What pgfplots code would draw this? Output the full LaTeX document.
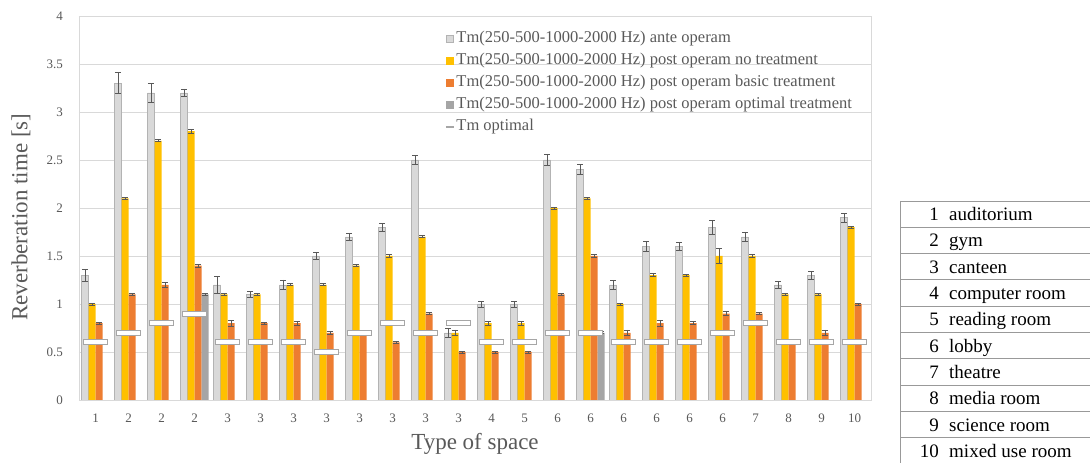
\documentclass[border=0pt]{standalone}
\usepackage{fontspec}
\setmainfont{Liberation Serif}
\usepackage{pgfplots}
\usepackage{pgfplotstable}
\pgfplotsset{compat=1.18}
\usetikzlibrary{plotmarks}

\definecolor{ante}{HTML}{D9D9D9}
\definecolor{anteline}{HTML}{B3B3B3}
\definecolor{notr}{HTML}{FFC000}
\definecolor{basic}{HTML}{ED7D31}
\definecolor{optim}{HTML}{A5A5A5}
\definecolor{txt}{HTML}{595959}
\definecolor{gridc}{HTML}{D9D9D9}
\definecolor{errc}{HTML}{595959}
\definecolor{tmline}{HTML}{A6A6A6}
\definecolor{tabline}{HTML}{999999}

\pgfdeclareplotmark{tmopt}{%
  \pgfpathrectangle{\pgfqpoint{-12pt}{-2.5pt}}{\pgfqpoint{24pt}{5pt}}%
  \pgfusepathqfillstroke}

% x = position of the group, y = value, e = error
\pgfplotstableread{
x y e
0 1.3 0.06
1 3.3 0.11
2 3.2 0.10
3 3.2 0.04
4 1.2 0.09
5 1.1 0.035
6 1.2 0.05
7 1.5 0.035
8 1.7 0.04
9 1.8 0.04
10 2.5 0.05
11 0.7 0.045
12 1.0 0.03
13 1.0 0.03
14 2.5 0.06
15 2.4 0.05
16 1.2 0.045
17 1.6 0.05
18 1.6 0.045
19 1.8 0.07
20 1.7 0.045
21 1.2 0.035
22 1.3 0.04
23 1.9 0.045
}\anteop

\pgfplotstableread{
x y e
0 1.0 0.01
1 2.1 0.01
2 2.7 0.01
3 2.8 0.02
4 1.1 0.01
5 1.1 0.01
6 1.2 0.01
7 1.2 0.01
8 1.4 0.01
9 1.5 0.015
10 1.7 0.01
11 0.7 0.03
12 0.8 0.02
13 0.8 0.02
14 2.0 0.01
15 2.1 0.01
16 1.0 0.01
17 1.3 0.015
18 1.3 0.01
19 1.5 0.08
20 1.5 0.015
21 1.1 0.01
22 1.1 0.01
23 1.8 0.01
}\notreat

\pgfplotstableread{
x y e
0 0.8 0.01
1 1.1 0.01
2 1.2 0.025
3 1.4 0.015
4 0.8 0.03
5 0.8 0.01
6 0.8 0.02
7 0.7 0.02
8 0.7 0.01
9 0.6 0.01
10 0.9 0.01
11 0.5 0.01
12 0.5 0.01
13 0.5 0.01
14 1.1 0.01
15 1.5 0.015
16 0.7 0.03
17 0.8 0.03
18 0.8 0.015
19 0.9 0.02
20 0.9 0.01
21 0.6 0.01
22 0.7 0.03
23 1.0 0.01
}\basictr

\pgfplotstableread{
x y e
3 1.1 0.01
15 0.7 0.01
}\optimtr

\pgfplotstableread{
x y
0 0.6
1 0.7
2 0.8
3 0.9
4 0.6
5 0.6
6 0.6
7 0.5
8 0.7
9 0.8
10 0.7
11 0.8
12 0.6
13 0.6
14 0.7
15 0.7
16 0.6
17 0.6
18 0.6
19 0.7
20 0.8
21 0.6
22 0.6
23 0.6
}\tmopt

\pgfplotsset{
  errs/.style={
    error bars/.cd, y dir=both, y explicit,
    error bar style={errc, line width=0.7pt},
    error mark options={errc, rotate=90, mark size=3pt, line width=0.7pt}},
  barleg/.style 2 args={legend image code/.code={%
    \fill[fill=#1, draw=#2, line width=0.5pt] (0pt,-3.5pt) rectangle (7pt,3.5pt);}},
}

\begin{document}
\begin{tikzpicture}
\begin{axis}[
  at={(79pt,63pt)}, anchor=south west,
  scale only axis, width=792pt, height=384pt,
  xmin=-0.5, xmax=23.5, ymin=0, ymax=4,
  xtick={0,...,23},
  xticklabels={1,2,2,2,3,3,3,3,3,3,3,3,4,5,6,6,6,6,6,6,7,8,9,10},
  ytick={0,0.5,...,4},
  yticklabels={0,0.5,1,1.5,2,2.5,3,3.5,4},
  major tick length=0pt,
  ymajorgrids, grid style={gridc, line width=0.8pt},
  axis line style={draw=gridc, line width=0.8pt},
  tick label style={font=\fontsize{13}{15}\selectfont, text=txt},
  yticklabel style={inner sep=0pt, xshift=-16pt},
  xticklabel style={inner sep=0pt, yshift=-14pt},
  xlabel={Type of space},
  ylabel={Reverberation time [s]},
  label style={font=\fontsize{23}{27}\selectfont, text=txt},
  xlabel style={at={(axis description cs:0.5,0)}, anchor=north, inner sep=0pt, yshift=-33pt},
  ylabel style={at={(axis description cs:-0.0732,0.476)}, anchor=center, inner sep=0pt},
  legend style={at={(axis description cs:0.458,0.971)}, anchor=north west,
    draw=none, fill=none, font=\fontsize{16.5}{19}\selectfont, text=txt,
    row sep=3pt, nodes={inner sep=1.5pt, text height=12pt, text depth=4pt}},
  legend cell align=left,
]
% bars: each group is 33pt wide, bars 7pt wide (7/33 = 0.21212 axis units)
\addplot[ybar, bar width=7pt, bar shift=0pt, fill=ante, draw=anteline, line width=0.5pt,
  barleg={ante}{anteline}, errs]
  table[x expr=\thisrow{x}-0.318182, y=y, y error=e] {\anteop};
\addlegendentry{Tm(250-500-1000-2000 Hz) ante operam}
\addplot[ybar, bar width=7pt, bar shift=0pt, fill=notr, draw=none,
  barleg={notr}{notr}, errs]
  table[x expr=\thisrow{x}-0.106061, y=y, y error=e] {\notreat};
\addlegendentry{Tm(250-500-1000-2000 Hz) post operam no treatment}
\addplot[ybar, bar width=7pt, bar shift=0pt, fill=basic, draw=none,
  barleg={basic}{basic}, errs]
  table[x expr=\thisrow{x}+0.106061, y=y, y error=e] {\basictr};
\addlegendentry{Tm(250-500-1000-2000 Hz) post operam basic treatment}
\addplot[ybar, bar width=7pt, bar shift=0pt, fill=optim, draw=none,
  barleg={optim}{optim}, errs]
  table[x expr=\thisrow{x}+0.318182, y=y, y error=e] {\optimtr};
\addlegendentry{Tm(250-500-1000-2000 Hz) post operam optimal treatment}
\addplot[only marks, mark=tmopt, mark options={fill=white, draw=tmline, line width=0.8pt},
  legend image code/.code={\draw[tmline, line width=2pt] (0pt,0pt) -- (8pt,0pt);}]
  table[x=x, y=y] {\tmopt};
\addlegendentry{Tm optimal}
\end{axis}

% legend table of the space types
\draw[tabline, line width=0.8pt] (900pt,262pt) -- (900pt,-10pt);
\foreach \num/\name [count=\k from 0] in {1/auditorium, 2/gym, 3/canteen,
    4/computer room, 5/reading room, 6/lobby, 7/theatre, 8/media room,
    9/science room, 10/mixed use room} {
  \draw[tabline, line width=0.8pt] (900pt,262pt-\k*26.3pt) -- (1100pt,262pt-\k*26.3pt);
  \node[anchor=base east, inner sep=0pt, font=\fontsize{19}{22}\selectfont]
    at (939pt,262pt-\k*26.3pt-13.15pt-6.5pt) {\num};
  \node[anchor=base west, inner sep=0pt, font=\fontsize{19}{22}\selectfont]
    at (949pt,262pt-\k*26.3pt-13.15pt-6.5pt) {\name};
}
\pgfresetboundingbox
\useasboundingbox (0pt,0pt) rectangle (1090pt,463pt);
\end{tikzpicture}
\end{document}
